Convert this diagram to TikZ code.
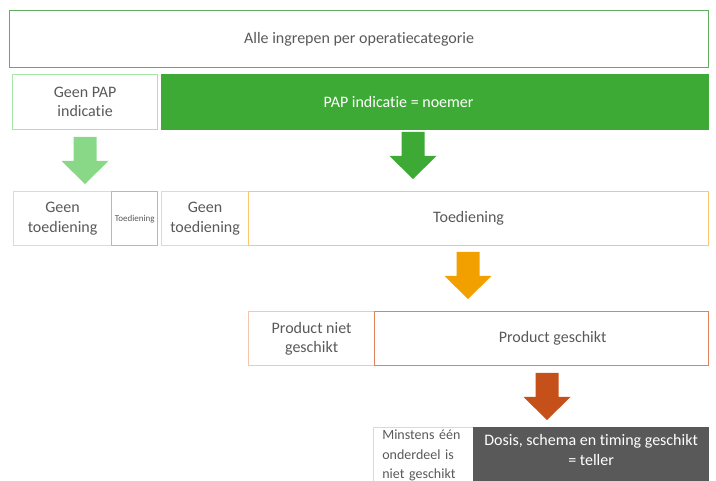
\documentclass[tikz,border=0pt]{standalone}
\usepackage{fontspec}
\setmainfont{Carlito}[Ligatures=NoCommon]
\usetikzlibrary{positioning}
\definecolor{txtgray}{RGB}{89,89,89}
\definecolor{topgreen}{RGB}{96,172,96}
\definecolor{ltgreen}{RGB}{166,230,166}
\definecolor{arrgreen}{RGB}{136,216,136}
\definecolor{dkgreen}{RGB}{61,170,53}
\definecolor{ltorange}{RGB}{255,214,140}
\definecolor{myorange}{RGB}{244,176,64}
\definecolor{arrorange}{RGB}{242,160,0}
\definecolor{ltsalmon}{RGB}{248,198,175}
\definecolor{mysalmon}{RGB}{225,130,90}
\definecolor{arrrust}{RGB}{197,80,25}
\definecolor{dkgray}{RGB}{89,89,89}
\definecolor{ltgray}{RGB}{217,217,217}

% block arrow: centre x, top y, tip y, colour
\newcommand{\blockarrow}[4]{%
  \fill[#4] ({#1-11.5},#2) -- ({#1+11.5},#2) -- ({#1+11.5},{#3-23})
    -- ({#1+23.5},{#3-23}) -- (#1,#3) -- ({#1-23.5},{#3-23})
    -- ({#1-11.5},{#3-23}) -- cycle;}

\begin{document}
\begin{tikzpicture}[x=1pt,y=-1pt,
          box/.style={draw,anchor=north west,inner sep=2pt,align=center,
                      line width=1.2pt,text=txtgray,
                      font=\fontsize{16}{19.5}\selectfont}]
        \useasboundingbox (0,0) rectangle (716,481);
        \clip (0,0) rectangle (716,481);
        % categories
        \node[box,draw=topgreen,minimum width=699pt,minimum height=57pt](all) at (9,10)
          {Alle ingrepen per operatiecategorie};
        % PAP indication
        \node[box,draw=ltgreen,minimum width=145pt,minimum height=55pt](geenpap) at (12,74)
          {Geen PAP\\indicatie};
        \node[box,draw=dkgreen,fill=dkgreen,text=white,minimum width=547pt,minimum height=55pt](pap) at (161,74)
          {PAP indicatie = noemer\hspace*{73pt}};
        \blockarrow{85}{137}{184}{arrgreen}
        \blockarrow{413}{132}{179}{dkgreen}
        % administration
        \node[box,draw=ltorange,minimum width=98pt,minimum height=54pt](geentoed) at (13,191)
          {Geen\\toediening};
        \node[box,draw=myorange,line width=1.4pt,minimum width=46pt,minimum height=54pt,inner sep=0pt,
              font=\fontsize{9}{11}\selectfont](toedklein) at (111,191)
          {Toediening};
        \node[box,draw=ltorange,minimum width=87pt,minimum height=54pt](geentoedpap) at (161,191)
          {Geen\\toediening};
        \node[box,draw=ltorange!60!myorange,minimum width=460pt,minimum height=54pt](toed) at (248,191)
          {Toediening\hspace*{20pt}};
        \blockarrow{468}{252}{299}{arrorange}
        % product
        \node[box,draw=ltsalmon,minimum width=126pt,minimum height=54pt](nietgeschikt) at (248,311)
          {Product niet\\geschikt};
        \node[box,draw=mysalmon,minimum width=334pt,minimum height=54pt](geschikt) at (374,311)
          {\hspace*{22pt}Product geschikt};
        \blockarrow{547}{373}{420}{arrrust}
        % dose, schedule and timing
        \node[box,draw=ltgray,line width=0.6pt,align=left,text width=82pt,inner xsep=9pt,
              minimum height=57pt,font=\fontsize{14}{19.5}\selectfont](minstens) at (373,427)
          {Minstens één\\onderdeel is\\niet geschikt};
        \node[box,draw=dkgray,fill=dkgray,text=white,minimum width=235pt,minimum height=64pt](teller) at (473,427)
          {Dosis, schema en timing geschikt\\= teller\\~};
      \end{tikzpicture}
\end{document}
